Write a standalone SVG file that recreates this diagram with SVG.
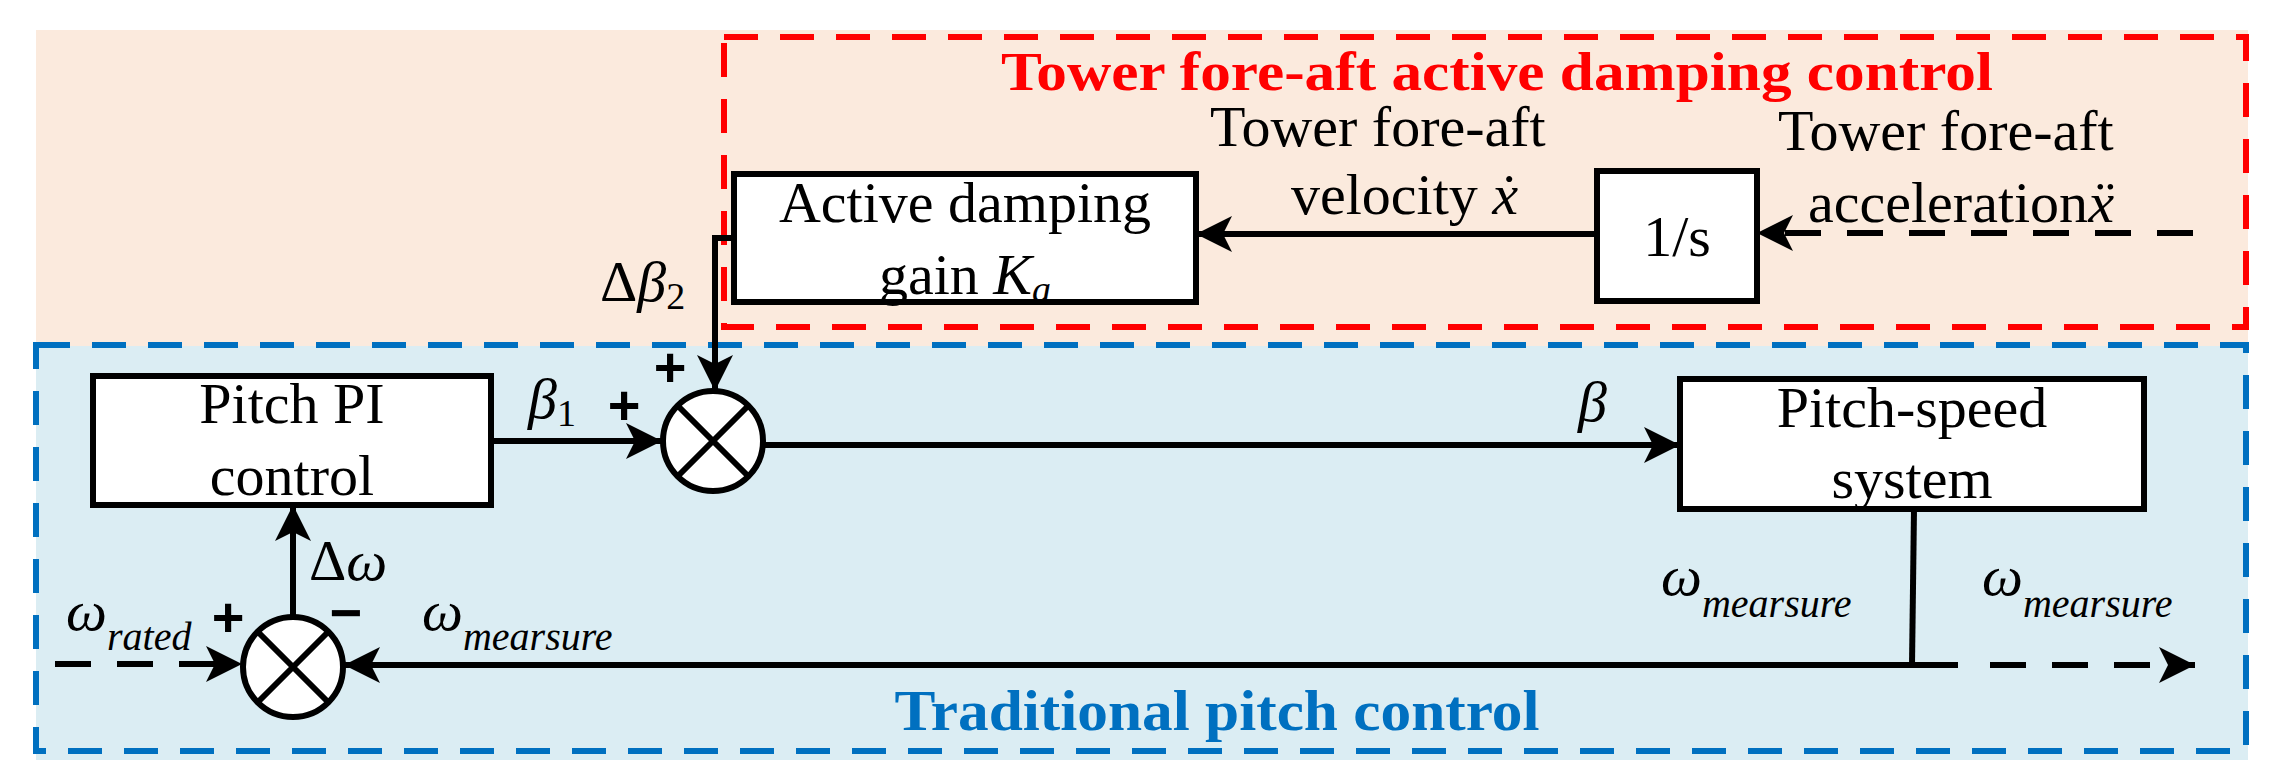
<svg xmlns="http://www.w3.org/2000/svg" width="2283" height="781" viewBox="0 0 2283 781" font-family="'Liberation Serif', serif">
<style>
.t{font-family:"Liberation Serif",serif;font-size:58px;fill:#000}
.i{font-style:italic}
.b{fill:#fff;stroke:#000;stroke-width:6}
.l{stroke:#000;stroke-width:6;fill:none}
.d{stroke-dasharray:36 26}
.p{font-family:"Liberation Sans",sans-serif;font-size:56px;font-weight:bold;text-anchor:middle}
</style>
<defs>
<marker id="a" markerUnits="userSpaceOnUse" markerWidth="40" markerHeight="40" refX="36" refY="18" orient="auto"><path d="M0,0 L36,18 L0,36 L9,18 Z" fill="#000"/></marker>
</defs>
<rect width="2283" height="781" fill="#fff"/>
<rect x="36" y="30" width="2212" height="316" fill="#fbeadd"/>
<rect x="36" y="346" width="2212" height="414" fill="#dbedf3"/>
<rect id="red-frame" x="724" y="37" width="1522" height="290" fill="none" stroke="#f00" stroke-width="6" stroke-dasharray="34 22"/>
<rect id="blue-frame" x="36" y="345" width="2210" height="406" fill="none" stroke="#0070c0" stroke-width="6" stroke-dasharray="34 22"/>
<text x="1497" y="90" text-anchor="middle" font-family="'Liberation Serif',serif" font-weight="bold" font-size="54" fill="#f00" textLength="992" lengthAdjust="spacingAndGlyphs">Tower fore-aft active damping control</text>
<text x="1217" y="730" text-anchor="middle" font-family="'Liberation Serif',serif" font-weight="bold" font-size="58" fill="#0070c0" textLength="645" lengthAdjust="spacingAndGlyphs">Traditional pitch control</text>
<g id="connectors">
<line class="l" x1="1597" y1="234" x2="1196" y2="234" marker-end="url(#a)"/>
<line class="l d" x1="2193" y1="233" x2="1757" y2="233" marker-end="url(#a)"/>
<polyline class="l" points="734,238 715,238 715,391" marker-end="url(#a)"/>
<line class="l" x1="491" y1="441" x2="662" y2="441" marker-end="url(#a)"/>
<line class="l" x1="764" y1="445" x2="1680" y2="445" marker-end="url(#a)"/>
<line class="l" x1="1914" y1="509" x2="1912" y2="665"/>
<line class="l" x1="1958" y1="665" x2="344" y2="665" marker-end="url(#a)"/>
<line class="l d" x1="1990" y1="665" x2="2195" y2="665" marker-end="url(#a)"/>
<line class="l d" x1="55" y1="664" x2="242" y2="664" marker-end="url(#a)"/>
<line class="l" x1="293" y1="617" x2="293" y2="505" marker-end="url(#a)"/>
</g>
<g id="active-damping"><rect class="b" x="734" y="174" width="462" height="128"/>
<text class="t" x="965" y="222" text-anchor="middle">Active damping</text>
<text class="t" x="965" y="294" text-anchor="middle">gain <tspan class="i">K</tspan><tspan class="i" font-size="38" dy="8">a</tspan></text></g>
<g id="integrator"><rect class="b" x="1597" y="171" width="160" height="130"/>
<text class="t" x="1677" y="256" text-anchor="middle">1/s</text></g>
<g id="pitch-pi"><rect class="b" x="93" y="376" width="398" height="129"/>
<text class="t" x="292" y="423" text-anchor="middle">Pitch PI</text>
<text class="t" x="292" y="495" text-anchor="middle">control</text></g>
<g id="pitch-speed"><rect class="b" x="1680" y="379" width="464" height="130"/>
<text class="t" x="1912" y="427" text-anchor="middle">Pitch-speed</text>
<text class="t" x="1912" y="498" text-anchor="middle">system</text></g>
<g id="sum1"><circle class="b" cx="713" cy="441" r="50"/>
<path class="l" d="M678,406 L748,476 M748,406 L678,476"/></g>
<g id="sum2"><circle class="b" cx="293" cy="667" r="50"/>
<path class="l" d="M258,632 L328,702 M328,632 L258,702"/></g>
<g id="labels">
<text class="t" x="1210" y="146">Tower fore-aft</text>
<text class="t" x="1291" y="214">velocity <tspan class="i">ẋ</tspan></text>
<text class="t" x="1778" y="150">Tower fore-aft</text>
<text class="t" x="1808" y="222">acceleration<tspan class="i">ẍ</tspan></text>
<text class="t" x="600" y="301">Δ<tspan class="i">β</tspan><tspan font-size="38" dy="8">2</tspan></text>
<text class="p" x="670" y="386">+</text>
<text class="t i" x="528" y="418">β<tspan font-style="normal" font-size="38" dy="8">1</tspan></text>
<text class="p" x="624" y="424">+</text>
<text class="t i" x="1578" y="421">β</text>
<text class="t" x="309" y="580">Δ<tspan class="i">ω</tspan></text>
<text class="p" x="228" y="636">+</text>
<text class="p" x="346" y="632">−</text>
<text class="t i" x="66" y="630">ω<tspan font-size="40" dy="20">rated</tspan></text>
<text class="t i" x="422" y="630">ω<tspan font-size="40" dy="20">mearsure</tspan></text>
<text class="t i" x="1661" y="595">ω<tspan font-size="40" dy="22">mearsure</tspan></text>
<text class="t i" x="1982" y="595">ω<tspan font-size="40" dy="22">mearsure</tspan></text>
</g>
</svg>
